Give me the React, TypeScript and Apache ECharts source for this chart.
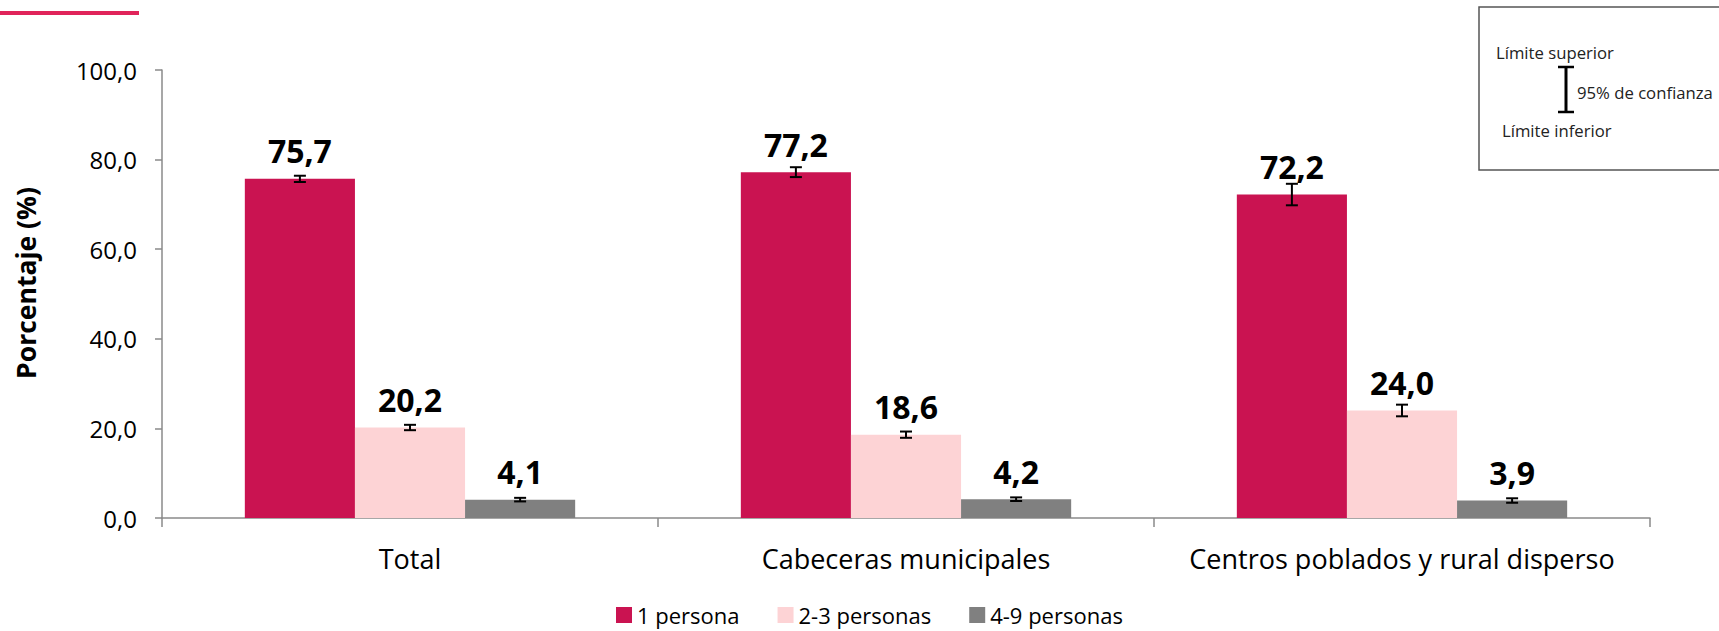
import React, { useEffect, useRef } from "react";
import * as echarts from "echarts";

const categories = ["Total", "Cabeceras municipales", "Centros poblados y rural disperso"];
const seriesNames = ["1 persona", "2-3 personas", "4-9 personas"];
const persona1 = [75.7, 77.2, 72.2];
const persona23 = [20.2, 18.6, 24.0];
const persona49 = [4.1, 4.2, 3.9];
const persona1Low = [75.0, 76.1, 69.8];
const persona1High = [76.4, 78.3, 74.6];
const persona23Low = [19.6, 17.9, 22.7];
const persona23High = [20.8, 19.3, 25.3];
const persona49Low = [3.7, 3.8, 3.4];
const persona49High = [4.5, 4.6, 4.4];
const yTicks = [0, 20, 40, 60, 80, 100];
const boxTexts = ["Límite superior", "95% de confianza", "Límite inferior"];

const colors = ["#CA1351", "#FDD3D5", "#808080"];
const FONT = "'Open Sans', 'Noto Sans', sans-serif";
const CAT_GAP = 0.334;

const fmt = (v: number) => v.toFixed(1).replace(".", ",");

export default function App() {
  const ref = useRef<HTMLDivElement>(null);
  useEffect(() => {
    document.body.style.margin = "0";
    const chart = echarts.init(ref.current!, undefined, { renderer: "svg" });
    const values = [persona1, persona23, persona49];
    const lows = [persona1Low, persona23Low, persona49Low];
    const highs = [persona1High, persona23High, persona49High];
    const errData: number[][] = [];
    for (let s = 0; s < 3; s++) {
      for (let c = 0; c < categories.length; c++) {
        errData.push([c, s, lows[s][c], highs[s][c]]);
      }
    }
    const barSeries = values.map((vals, i) => ({
      name: seriesNames[i],
      type: "bar",
      data: vals,
      barGap: "0%",
      barCategoryGap: "33.4%",
      itemStyle: { color: colors[i] },
      label: {
        show: true,
        position: "top",
        distance: 12,
        formatter: (p: any) => fmt(p.value),
        fontFamily: FONT,
        fontWeight: "bold",
        fontSize: 32,
        color: "#000",
      },
      z: 2,
    }));
    const option: any = {
      animation: false,
      textStyle: { fontFamily: FONT },
      grid: { left: 162, right: 69, top: 70, bottom: 113, containLabel: false },
      legend: {
        data: seriesNames,
        left: 616,
        top: 604,
        padding: 0,
        icon: "rect",
        itemWidth: 16,
        itemHeight: 16,
        itemGap: 38,
        textStyle: { fontFamily: FONT, fontSize: 22, lineHeight: 22, color: "#000" },
      },
      xAxis: {
        type: "category",
        data: categories,
        axisLine: { lineStyle: { color: "#8a8a8a", width: 1.5 } },
        axisTick: { show: true, length: 9, lineStyle: { color: "#8a8a8a", width: 1.5 } },
        axisLabel: { interval: 0, fontFamily: FONT, fontSize: 27, color: "#000", margin: 27 },
      },
      yAxis: {
        type: "value",
        min: 0,
        max: yTicks[yTicks.length - 1],
        interval: yTicks[1] - yTicks[0],
        name: "Porcentaje (%)",
        nameLocation: "middle",
        nameRotate: 90,
        nameGap: 123,
        nameTextStyle: {
          fontFamily: FONT,
          fontSize: 26.5,
          fontWeight: "bold",
          color: "#000",
          padding: [0, 0, 0, 22],
        },
        splitLine: { show: false },
        axisLine: { show: true, lineStyle: { color: "#8a8a8a", width: 1.5 } },
        axisTick: { show: true, length: 7, lineStyle: { color: "#8a8a8a", width: 1.5 } },
        axisLabel: {
          fontFamily: FONT,
          fontSize: 24,
          color: "#000",
          margin: 25,
          formatter: (v: number) => fmt(v),
        },
      },
      series: [
        ...barSeries,
        {
          type: "custom",
          name: "error",
          data: errData,
          z: 5,
          silent: true,
          renderItem: (params: any, api: any) => {
            const cat = api.value(0);
            const s = api.value(1);
            const lo = api.value(2);
            const hi = api.value(3);
            const band = api.size([1, 0])[0];
            const bw = (band * (1 - CAT_GAP)) / 3;
            const pLo = api.coord([cat, lo]);
            const pHi = api.coord([cat, hi]);
            const x = pLo[0] + (s - 1) * bw;
            const hw = 6;
            const style = { stroke: "#000", lineWidth: 2 };
            return {
              type: "group",
              children: [
                { type: "line", shape: { x1: x, y1: pHi[1], x2: x, y2: pLo[1] }, style },
                { type: "line", shape: { x1: x - hw, y1: pHi[1], x2: x + hw, y2: pHi[1] }, style },
                { type: "line", shape: { x1: x - hw, y1: pLo[1], x2: x + hw, y2: pLo[1] }, style },
              ],
            };
          },
        },
      ],
      graphic: [
        { type: "rect", shape: { x: 0, y: 11, width: 139, height: 4 }, style: { fill: "#E0245A" } },
        {
          type: "rect",
          shape: { x: 1479, y: 7, width: 300, height: 163 },
          style: { fill: "none", stroke: "#555", lineWidth: 1.5 },
        },
        {
          type: "text",
          x: 1496,
          y: 52,
          style: { text: boxTexts[0], fontFamily: FONT, fontSize: 16.7, fill: "#222", verticalAlign: "middle" },
        },
        {
          type: "text",
          x: 1577,
          y: 92,
          style: { text: boxTexts[1], fontFamily: FONT, fontSize: 16.7, fill: "#222", verticalAlign: "middle" },
        },
        {
          type: "text",
          x: 1502,
          y: 130,
          style: { text: boxTexts[2], fontFamily: FONT, fontSize: 16.7, fill: "#222", verticalAlign: "middle" },
        },
        { type: "line", shape: { x1: 1566, y1: 67, x2: 1566, y2: 112 }, style: { stroke: "#000", lineWidth: 3 } },
        { type: "line", shape: { x1: 1558, y1: 67, x2: 1574, y2: 67 }, style: { stroke: "#000", lineWidth: 2.5 } },
        { type: "line", shape: { x1: 1558, y1: 112, x2: 1574, y2: 112 }, style: { stroke: "#000", lineWidth: 2.5 } },
      ],
    };
    chart.setOption(option);
    return () => chart.dispose();
  }, []);
  return <div ref={ref} style={{ width: 1719, height: 631 }} />;
}
